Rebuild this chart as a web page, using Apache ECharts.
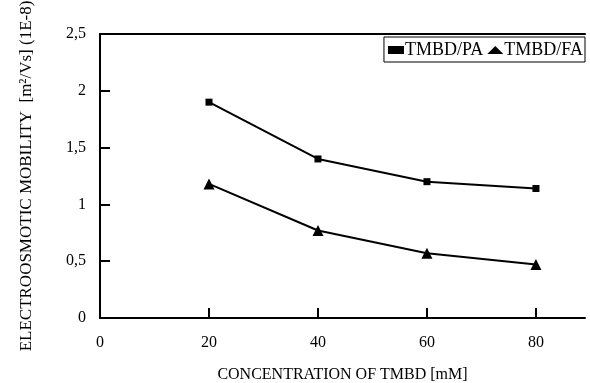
<!DOCTYPE html>
<html>
<head>
<meta charset="utf-8">
<script src="https://cdn.jsdelivr.net/npm/echarts@6/dist/echarts.min.js"></script>
<style>
  html, body { margin: 0; padding: 0; background: #fff; }
  #chart { width: 590px; height: 383px; }
</style>
</head>
<body>
<div id="chart"></div>
<script>
// 数据
let conc = [20, 40, 60, 80];
let mobilityPA = [1.90, 1.40, 1.20, 1.14];
let mobilityFA = [1.18, 0.77, 0.57, 0.47];

// 组合成 [x, y]
function pairs(xs, ys) {
    return xs.map((x, i) => [x, ys[i]]);
}

let font = '"Liberation Serif", "DejaVu Serif", serif';
let myChart = echarts.init(document.getElementById('chart'));
let option = {
    animation: false,
    backgroundColor: '#fff',
    textStyle: { fontFamily: font, color: '#000' },
    grid: {
        left: 100,
        right: 5,
        top: 34,
        bottom: 65,
        outerBoundsMode: 'none'
    },
    legend: {
        right: 5,
        top: 37,
        orient: 'horizontal',
        itemGap: 4,
        itemWidth: 16,
        itemHeight: 8,
        padding: [4, 2, 3, 4],
        borderColor: '#000',
        borderWidth: 1,
        textStyle: { fontFamily: font, fontSize: 18, color: '#000', padding: [0, 0, 0, -4] },
        data: [
            { name: 'TMBD/PA', icon: 'rect' },
            { name: 'TMBD/FA', icon: 'triangle' }
        ]
    },
    xAxis: [{
        type: 'value',
        min: 0,
        max: 89,
        interval: 20,
        name: 'CONCENTRATION OF TMBD [mM]',
        nameLocation: 'middle',
        nameGap: 49,
        nameTextStyle: { fontFamily: font, fontSize: 16, color: '#000' },
        axisLine: { show: true, lineStyle: { color: '#000', width: 2 } },
        axisTick: { show: true, inside: true, length: 10, lineStyle: { color: '#000', width: 2 } },
        axisLabel: { fontFamily: font, fontSize: 16, color: '#000', margin: 17, showMaxLabel: false },
        splitLine: { show: false }
    }, {
        type: 'value',
        position: 'top',
        min: 0,
        max: 89,
        axisLine: { show: true, onZero: false, lineStyle: { color: '#000', width: 2 } },
        axisTick: { show: false },
        axisLabel: { show: false },
        splitLine: { show: false }
    }],
    yAxis: {
        type: 'value',
        min: 0,
        max: 2.5,
        interval: 0.5,
        name: 'ELECTROOSMOTIC MOBILITY  [m\u00b2/Vs] (1E-8)',
        nameLocation: 'middle',
        nameGap: 65,
        nameTextStyle: { fontFamily: font, fontSize: 17, color: '#000' },
        axisLine: { show: true, lineStyle: { color: '#000', width: 2 } },
        axisTick: { show: true, inside: true, length: 10, lineStyle: { color: '#000', width: 2 } },
        axisLabel: {
            fontFamily: font,
            fontSize: 16,
            color: '#000',
            margin: 14,
            padding: [5, 0, 0, 0],
            formatter: v => String(v).replace('.', ',')
        },
        splitLine: { show: false }
    },
    series: [{
        name: 'TMBD/PA',
        type: 'line',
        data: pairs(conc, mobilityPA),
        symbol: 'rect',
        symbolSize: 7,
        itemStyle: { color: '#000' },
        lineStyle: { color: '#000', width: 2 }
    }, {
        name: 'TMBD/FA',
        type: 'line',
        data: pairs(conc, mobilityFA),
        symbol: 'triangle',
        symbolSize: 11,
        itemStyle: { color: '#000' },
        lineStyle: { color: '#000', width: 2 }
    }]
};
myChart.setOption(option);
</script>
</body>
</html>
